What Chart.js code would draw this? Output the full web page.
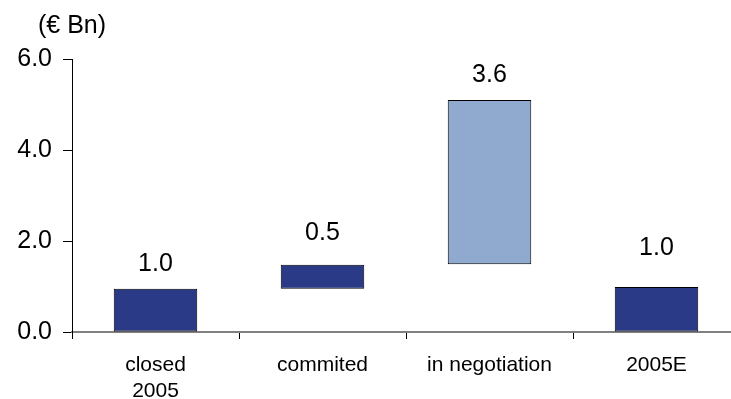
<!DOCTYPE html>
<html>
<head>
<meta charset="utf-8">
<script src="https://cdn.jsdelivr.net/npm/chart.js@4"></script>
<style>
  html, body { margin: 0; padding: 0; background: #fff; overflow: hidden; }
  #wrap { width: 745px; height: 399px; }
</style>
</head>
<body>
<div id="wrap"><canvas id="c" width="745" height="399"></canvas></div>
<script>
// ---- data ----
const categories = [['closed', '2005'], 'commited', 'in negotiation', '2005E'];
const barStart = [0, 0.95, 1.49, 0];
const barEnd = [0.95, 1.48, 5.1, 0.99];
const valueLabels = ['1.0', '0.5', '3.6', '1.0'];
const yTicks = [0, 2, 4, 6];
const unitLabel = '(€ Bn)';

// ---- styles ----
const NAVY = '#2a3a87';
const LIGHT = '#8faace';
const barColors = [NAVY, NAVY, LIGHT, NAVY];
const labelOffsets = [25, 32, 25, 39];
const FONT = "'Liberation Sans', Arial, sans-serif";

const valueLabelPlugin = {
  id: 'valueLabels',
  afterDatasetsDraw(chart) {
    const ctx = chart.ctx;
    const meta = chart.getDatasetMeta(0);
    ctx.save();
    ctx.font = '25px ' + FONT;
    ctx.fillStyle = '#000';
    ctx.textAlign = 'center';
    ctx.textBaseline = 'middle';
    meta.data.forEach((bar, i) => {
      const top = Math.min(bar.y, bar.base);
      ctx.fillText(valueLabels[i], bar.x, top - labelOffsets[i]);
    });
    ctx.restore();
  }
};

const unitPlugin = {
  id: 'unitLabel',
  afterDraw(chart) {
    const ctx = chart.ctx;
    ctx.save();
    ctx.font = '25px ' + FONT;
    ctx.fillStyle = '#000';
    ctx.textAlign = 'left';
    ctx.textBaseline = 'middle';
    ctx.fillText(unitLabel, 38, 26);
    ctx.restore();
  }
};

new Chart(document.getElementById('c'), {
  type: 'bar',
  data: {
    labels: categories,
    datasets: [{
      data: barStart.map((s, i) => [s, barEnd[i]]),
      backgroundColor: barColors,
      borderColor: '#000',
      borderWidth: 1,
      borderSkipped: false,
      barPercentage: 0.5,
      categoryPercentage: 1.0
    }]
  },
  options: {
    responsive: false,
    animation: false,
    layout: { padding: { top: 59, right: 5, left: 0, bottom: 0 } },
    plugins: { legend: { display: false }, tooltip: { enabled: false }, title: { display: false } },
    scales: {
      x: {
        offset: true,
        grid: { display: true, offset: true, drawOnChartArea: false, drawTicks: true, tickLength: 7, color: '#000', lineWidth: 1 },
        border: { display: true, color: '#808080', width: 2 },
        ticks: { color: '#000', padding: 13, maxRotation: 0, autoSkip: false, font: { family: FONT, size: 21, lineHeight: 1.26 } },
        afterFit(s) { s.height = 67; }
      },
      y: {
        min: 0, max: 6,
        afterBuildTicks(s) { s.ticks = yTicks.map(v => ({ value: v })); },
        grid: { display: true, drawOnChartArea: false, drawTicks: true, tickLength: 9, color: '#000', lineWidth: 1 },
        border: { display: true, color: '#000', width: 1 },
        ticks: { color: '#000', padding: 11, font: { family: FONT, size: 25 }, callback: v => Number(v).toFixed(1) },
        afterFit(s) { s.width = 72; }
      }
    }
  },
  plugins: [valueLabelPlugin, unitPlugin]
});
</script>
</body>
</html>
